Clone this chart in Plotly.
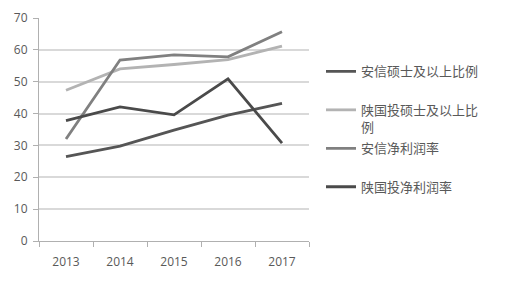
import plotly.graph_objects as go

years = ["2013", "2014", "2015", "2016", "2017"]
anxin_master = [26.5, 29.8, 34.8, 39.5, 43.2]
sgt_master = [47.3, 54.0, 55.4, 56.9, 61.2]
anxin_margin = [32.0, 56.8, 58.4, 57.8, 65.7]
sgt_margin = [37.8, 42.1, 39.6, 50.9, 30.7]

names = ["安信硕士及以上比例", "陕国投硕士及以上比<br>例", "安信净利润率", "陕国投净利润率"]
series = [anxin_master, sgt_master, anxin_margin, sgt_margin]
colors = ["#555555", "#b3b3b3", "#808080", "#4a4a4a"]
legends = ["legend", "legend2", "legend3", "legend4"]

fig = go.Figure()
for n, s, c, lg in zip(names, series, colors, legends):
    fig.add_trace(go.Scatter(x=years, y=s, name=n, mode="lines",
                             line=dict(color=c, width=2.8), legend=lg))

font = dict(family="Open Sans, Noto Sans CJK SC, sans-serif", size=12, color="#595959")
lfont = dict(family="Noto Sans CJK SC, sans-serif", size=13, color="#595959")
ys = [70, 110, 150, 190]
H = 232
for lg, yp in zip(legends, ys):
    fig.update_layout(**{lg: dict(x=(321 - 39) / 270, y=(241 - yp + 21) / H, xanchor="left",
                                  yanchor="top", font=lfont, bgcolor="rgba(0,0,0,0)",
                                  valign="top", tracegroupgap=0)})

fig.update_layout(
    width=509, height=282,
    margin=dict(l=39, r=200, t=9, b=41),
    paper_bgcolor="white", plot_bgcolor="white",
    font=font,
    showlegend=True,
    xaxis=dict(type="category", range=[-0.5, 4.5], showgrid=False, showline=True,
               linecolor="#b0b0b0", linewidth=1, ticks="outside", tickson="boundaries",
               ticklen=5, tickcolor="#b0b0b0", tickfont=font, fixedrange=True,
               ticklabelstandoff=10),
    yaxis=dict(range=[0, 70], dtick=10, showgrid=True, gridcolor="#d9d9d9", gridwidth=1.5,
               showline=True, linecolor="#b0b0b0", linewidth=1, ticks="outside",
               ticklen=5, tickcolor="#b0b0b0", tickfont=font, zeroline=False,
               ticklabelstandoff=3),
)
fig.write_html("out.html")
